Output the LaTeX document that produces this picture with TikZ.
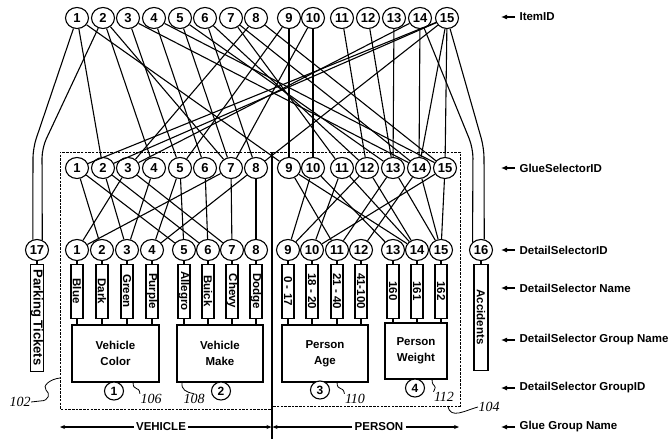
\documentclass[tikz,border=0pt]{standalone}
\usepackage{fontspec}
\setmainfont{Liberation Sans}
\newfontfamily\refserif{Liberation Serif}
\usetikzlibrary{shapes.geometric, arrows.meta}

\begin{document}
\begin{tikzpicture}[
    x=1pt, y=-1pt, line width=1.1pt,
    idc/.style={ellipse, draw, fill=white, minimum width=23pt, minimum height=21pt,
                inner sep=0pt, font=\fontsize{13}{13}\selectfont\bfseries},
    gidc/.style={idc, minimum width=19pt, minimum height=18pt, font=\fontsize{12}{12}\selectfont\bfseries},
    namebox/.style={rectangle, draw, rotate=-90, anchor=west, minimum width=54pt,
                    minimum height=12pt, inner sep=0pt, font=\fontsize{11.5}{12}\selectfont\bfseries},
    grpbox/.style={rectangle, draw, align=center, minimum height=57pt,
                   font=\fontsize{11.5}{16}\selectfont\bfseries},
    lbl/.style={anchor=west, inner sep=0pt, font=\fontsize{11.5}{12}\selectfont\bfseries},
    refno/.style={inner sep=0pt, font=\refserif\itshape\fontsize{14}{14}\selectfont},
    gluebox/.style={line width=0.9pt, dash pattern=on 2.5pt off 1.2pt},
    tip/.style={-{Latex[length=6pt,width=5pt]}},
    span/.style={-{Stealth[length=5pt,width=4pt]}}
]
  \useasboundingbox (0,0) rectangle (672,439);

  % ID rows
  \foreach \x [count=\i] in {77,103,128,154,180,205,231,256,289,313,342,368,394,420,447}
    \node[idc] (item\i) at (\x,18) {\i};
  \foreach \x [count=\i] in {77,103,128,154,180,205,231,256,289,313,342,367,393,419,445}
    \node[idc] (glue\i) at (\x,168) {\i};
  \foreach \x [count=\i] in {77,102,127,152,184,208,232,256,288,312,337,361,393,417,441}
    \node[idc] (det\i) at (\x,250) {\i};
  \node[idc] (det16) at (481,250) {16};
  \node[idc] (det17) at (37,250) {17};

  % item -> glue selector
  \foreach \a/\b in {1/2,1/9,2/4,2/7,3/5,3/14,4/6,4/15,5/7,5/13,6/8,6/12,7/11,7/14,
                     8/3,8/15,9/9,9/5,10/10,10/7,11/12,12/13,13/13,14/14,14/3,
                     15/1,15/2,15/8,15/14,15/15}
    \draw (item\a) -- (glue\b);

  % glue selector -> detail selector
  \foreach \a/\b in {1/2,1/5,2/3,2/6,3/1,3/7,4/3,5/4,5/5,6/6,7/7,7/1,8/8,8/4,
                     9/11,9/14,10/9,10/13,11/10,11/14,12/9,12/14,13/11,13/15,
                     14/12,14/15,15/10,15/15}
    \draw (glue\a) -- (det\b);

  % items straight to parking tickets / accidents
  \coordinate (pk1) at (33,148);
  \coordinate (pk2) at (42,148);
  \coordinate (ac1) at (473,148);
  \coordinate (ac2) at (484,148);
  \draw[rounded corners=10pt] (item1) -- (pk1) -- (det17.112);
  \draw[rounded corners=10pt] (item2) -- (pk2) -- (det17.62);
  \draw[rounded corners=10pt] (item14) -- (ac1) -- (det16.137);
  \draw[rounded corners=10pt] (item15) -- (ac2) -- (det16.73);

  % detail selector names
  \foreach \i/\t in {1/Blue,2/Dark,3/Green,4/Purple,5/Allegro,6/Buick,7/Chevy,8/Dodge,
                     9/0 - 17,10/18 - 20,11/21 - 40,12/41-100,13/160,14/161,15/162}
  {
    \node[namebox] (nm\i) at ([yshift=-2.5pt]det\i.south) {\t};
    \draw (det\i.south) -- (nm\i.west);
  }
  \node[namebox, minimum width=107pt, font=\fontsize{13}{13}\selectfont\bfseries] (nm17)
       at ([yshift=-2.5pt]det17.south) {Parking Tickets};
  \node[namebox, minimum width=106pt, minimum height=14pt] (nm16) at ([yshift=-2.5pt]det16.south) {Accidents};
  \draw (det17.south) -- (nm17.west);
  \draw (det16.south) -- (nm16.west);

  % detail selector groups
  \node[grpbox, minimum width=87pt] (vcol)  at (115.5,353.5) {Vehicle\\Color};
  \node[grpbox, minimum width=86pt] (vmake) at (220,353.5)   {Vehicle\\Make};
  \node[grpbox, minimum width=86pt] (page)  at (325,353.5)   {Person\\Age};
  \node[grpbox, minimum width=62pt, minimum height=56pt] (pwt) at (416,351) {Person\\Weight};
  \foreach \i/\g in {1/vcol,2/vcol,3/vcol,4/vcol,5/vmake,6/vmake,7/vmake,8/vmake,
                     9/page,10/page,11/page,12/page,13/pwt,14/pwt,15/pwt}
    \draw (nm\i.east) -- (nm\i.east |- \g.north);

  \node[gidc] (gid1) at (114,391) {1};
  \node[gidc] (gid2) at (221,391) {2};
  \node[gidc] (gid3) at (320,390) {3};
  \node[gidc] (gid4) at (415,388) {4};

  % glue groups
  \draw[gluebox] (272,152) -- (60,152) -- (60,409) -- (272,409);
  \draw[gluebox] (273,152) -- (460,152) -- (460,406) -- (273,406);
  \coordinate (divtop) at (272,152);
  \coordinate (divbot) at (272,439);
  \draw (divtop) -- (divbot);

  \node[inner sep=2pt, font=\fontsize{11.5}{12}\selectfont\bfseries] (veh) at (161,427) {VEHICLE};
  \node[inner sep=2pt, font=\fontsize{11.5}{12}\selectfont\bfseries] (per) at (379,427) {PERSON};
  \coordinate (vehL) at (60,427);
  \coordinate (midL) at (271.5,427);
  \coordinate (midR) at (272.5,427);
  \coordinate (perR) at (459,427);
  \draw[span] (veh) -- (vehL);
  \draw[span] (veh) -- (midL);
  \draw[span] (per) -- (midR);
  \draw[span] (per) -- (perR);

  % reference numerals
  \node[refno] (r102) at (20,402) {102};
  \node[refno] (r106) at (151,399) {106};
  \node[refno] (r108) at (194,399) {108};
  \node[refno] (r110) at (355,399) {110};
  \node[refno] (r112) at (444,397) {112};
  \node[refno] (r104) at (489,407) {104};
  \coordinate (b102) at (60,378);
  \coordinate (b106) at (133,382);
  \coordinate (b108) at (182,382);
  \coordinate (b110) at (337,382);
  \coordinate (b112) at (432,379);
  \coordinate (b104) at (448,406);
  \draw[line width=0.8pt] (r102.east) -- (40,401) .. controls (50,401) and (50,393) .. (46,390)
        .. controls (42,386) and (50,379) .. (b102);
  \draw[line width=0.8pt] (b106) .. controls (133,392) and (139,385) .. (r106.north west);
  \draw[line width=0.8pt] (b108) .. controls (181,390) and (186,392) .. (r108.north);
  \draw[line width=0.8pt] (b110) .. controls (337,392) and (343,385) .. (r110.north west);
  \draw[line width=0.8pt] (b112) .. controls (432,389) and (438,383) .. (r112.north west);
  \draw[line width=0.8pt] (b104) .. controls (450,420) and (466,410) .. (r104.west);

  % row labels
  \foreach \y/\t [count=\k] in {17/ItemID,168/GlueSelectorID,250/DetailSelectorID,
                                288/DetailSelector Name,340/DetailSelector Group Name,
                                388/DetailSelector GroupID,427/Glue Group Name}
  {
    \node[lbl] (lab\k) at (519,\y) {\t};
    \coordinate (labtip\k) at (501,\y);
    \draw[tip, shorten <=4pt] (lab\k.west) -- (labtip\k);
  }
\end{tikzpicture}
\end{document}
